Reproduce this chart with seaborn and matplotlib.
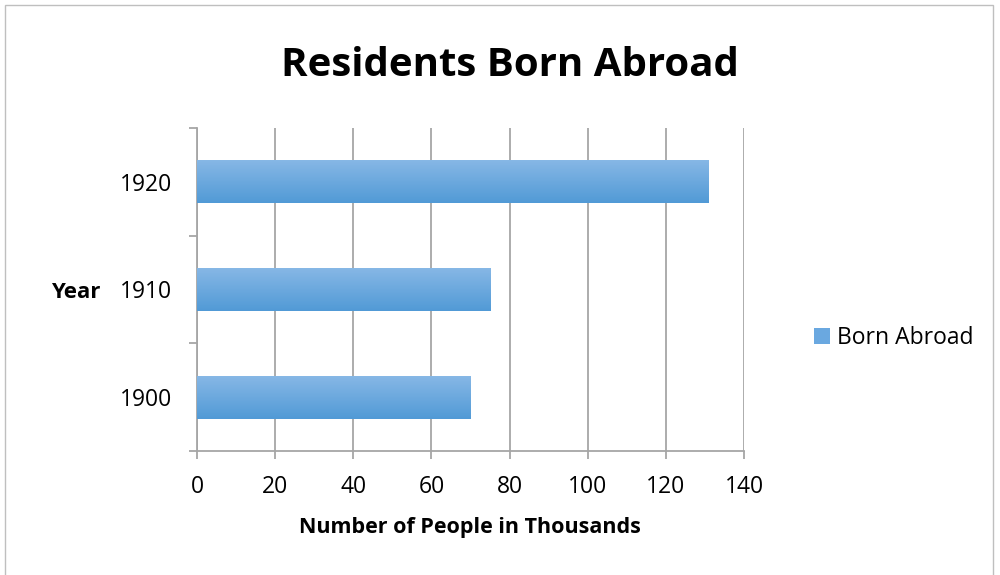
import numpy as np
import pandas as pd
import matplotlib
matplotlib.use("Agg")
import matplotlib.pyplot as plt
import matplotlib.patches as mpatches
from matplotlib.colors import LinearSegmentedColormap
import seaborn as sns

# Data
years = ["1920", "1910", "1900"]
born_abroad = [131, 75, 70]
x_ticks = [0, 20, 40, 60, 80, 100, 120, 140]
series_name = "Born Abroad"
title = "Residents Born Abroad"
x_label = "Number of People in Thousands"
y_label = "Year"

df = pd.DataFrame({"Year": years, "Value": born_abroad})

sns.set_theme(style="white")
plt.rcParams["font.family"] = ["Open Sans", "DejaVu Sans"]
plt.rcParams["text.color"] = "black"

fig = plt.figure(figsize=(10, 5.75), dpi=100)
ax = fig.add_axes([0.197, 1 - 451 / 575, 0.547, (451 - 128) / 575])

grad_top = "#88b8e6"
grad_bot = "#519ad6"
sns.barplot(data=df, x="Value", y="Year", order=years, orient="h",
            color="#5b9bd5", width=0.4, ax=ax, zorder=3)

ax.set_xlim(0, 140)
ax.set_ylim(2.5, -0.5)

# gradient fill for bars
cmap = LinearSegmentedColormap.from_list("g", [grad_top, grad_bot])
grad = np.linspace(0, 1, 256).reshape(-1, 1)
for p in ax.patches:
    x0, y0 = p.get_x(), p.get_y()
    w, h = p.get_width(), p.get_height()
    im = ax.imshow(grad, cmap=cmap, aspect="auto",
                   extent=[x0, x0 + w, y0 + h, y0], zorder=4, origin="upper")
    im.set_clip_path(p)
    p.set_edgecolor("none")
ax.set_xlim(0, 140)
ax.set_ylim(2.5, -0.5)

# grid & spines
ax.set_xticks(x_ticks)
ax.xaxis.grid(True, color="#a6a6a6", linewidth=1.3, zorder=0)
ax.yaxis.grid(False)
for s in ["top", "right"]:
    ax.spines[s].set_visible(False)
for s in ["left", "bottom"]:
    ax.spines[s].set_color("#a6a6a6")
    ax.spines[s].set_linewidth(1.3)

ax.tick_params(axis="x", which="major", length=5.5, width=1.3, color="#a6a6a6",
               direction="out", pad=12, labelsize=16.5, labelcolor="black", bottom=True)
ax.tick_params(axis="y", which="major", length=0, pad=18, labelsize=16.5, labelcolor="black")
ax.set_yticks([-0.5, 0.5, 1.5, 2.5], minor=True)
ax.tick_params(axis="y", which="minor", length=6, width=1.3, color="#a6a6a6",
               direction="out", left=True)

ax.set_xlabel(x_label, fontsize=15.5, fontweight="bold", color="black")
ax.xaxis.set_label_coords(0.499, (451 - 527) / 323)
ax.xaxis.label.set_va("center")
ax.set_ylabel(y_label, fontsize=16, fontweight="bold", rotation=0, color="black")
ax.yaxis.set_label_coords((76 - 197) / 547, (451 - 292) / 323)
ax.yaxis.label.set_va("center")
ax.yaxis.label.set_ha("center")

fig.text(0.5095, 1 - 66 / 575, title, fontsize=29, fontweight="bold",
         ha="center", va="center", color="black")

handle = mpatches.Patch(facecolor="#6aa8e0", edgecolor="none", label=series_name)
fig.legend(handles=[handle], loc="center left", bbox_to_anchor=(0.805, 1 - 338 / 575),
           frameon=False, fontsize=16.5, handlelength=0.7, handleheight=0.7,
           handletextpad=0.3, borderaxespad=0, labelcolor="black")

# chart border
fig.patches.append(mpatches.Rectangle((0.005, -0.01), 0.988, 0.991 + 0.01,
                                      transform=fig.transFigure, fill=False,
                                      edgecolor="#bfbfbf", linewidth=1))

fig.savefig("out.png", dpi=100)
